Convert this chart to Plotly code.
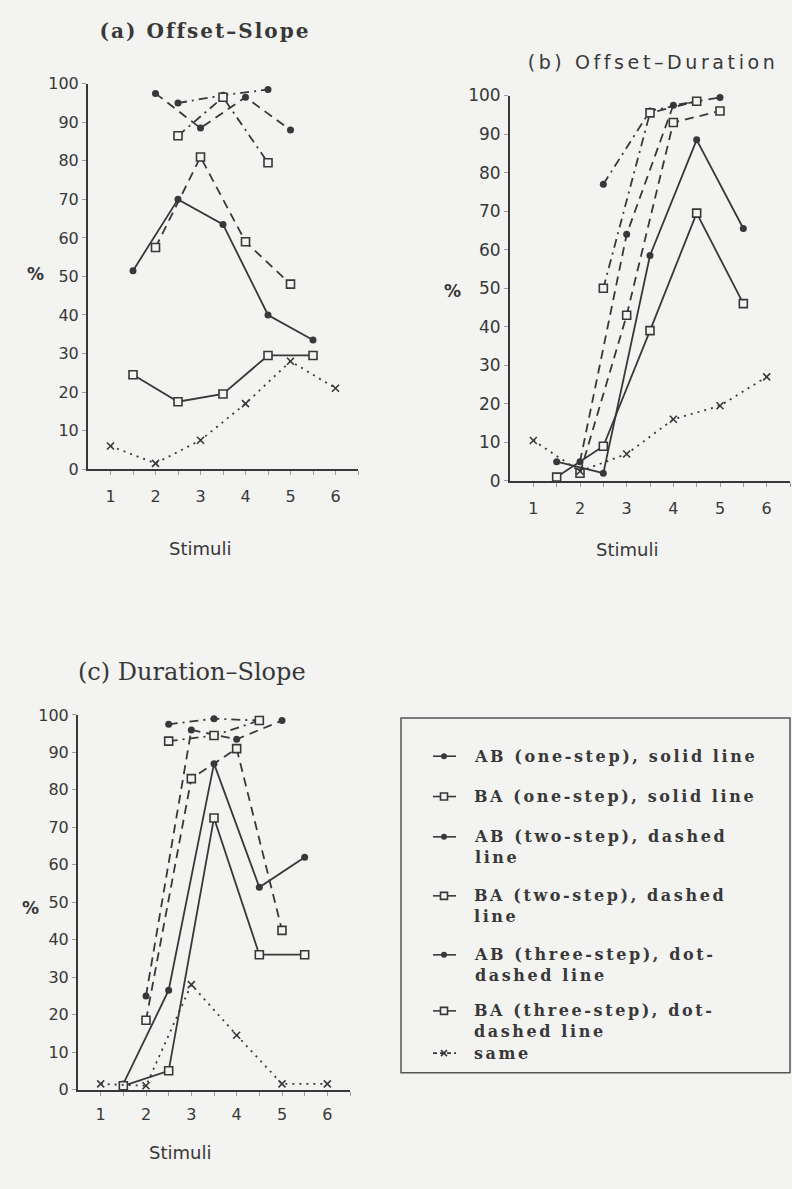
import plotly.graph_objects as go

# ---- data -------------------------------------------------------------
STIM_LABELS = ["1", "2", "3", "4", "5", "6"]
X_SAME = [1, 2, 3, 4, 5, 6]              # identical pairs
X_ONE = [1.5, 2.5, 3.5, 4.5, 5.5]        # one-step pairs (midpoints)
X_TWO = [2, 3, 4, 5]                     # two-step pairs
X_THREE = [2.5, 3.5, 4.5]                # three-step pairs

# (a) Offset-Slope
a_ab_one = [51.5, 70, 63.5, 40, 33.5]
a_ba_one = [24.5, 17.5, 19.5, 29.5, 29.5]
a_ab_two = [97.5, 88.5, 96.5, 88]
a_ba_two = [57.5, 81, 59, 48]
a_ab_three = [95, 97, 98.5]
a_ba_three = [86.5, 96.5, 79.5]
a_same = [6, 1.5, 7.5, 17, 28, 21]

# (b) Offset-Duration
b_ab_one = [5, 2, 58.5, 88.5, 65.5]
b_ba_one = [1, 9, 39, 69.5, 46]
b_ab_two = [5, 64, 97.5, 99.5]
b_ba_two = [2, 43, 93, 96]
b_ab_three = [77, 96, 98.5]
b_ba_three = [50, 95.5, 98.5]
b_same = [10.5, 2.5, 7, 16, 19.5, 27]

# (c) Duration-Slope
c_ab_one = [1.5, 26.5, 87, 54, 62]
c_ba_one = [1, 5, 72.5, 36, 36]
c_ab_two = [25, 96, 93.5, 98.5]
c_ba_two = [18.5, 83, 91, 42.5]
c_ab_three = [97.5, 99, 98.5]
c_ba_three = [93, 94.5, 98.5]
c_same = [1.5, 1, 28, 14.5, 1.5, 1.5]

SERIES_NAMES = [
    "AB (one-step), solid line",
    "BA (one-step), solid line",
    "AB (two-step), dashed line",
    "BA (two-step), dashed line",
    "AB (three-step), dot-dashed line",
    "BA (three-step), dot-dashed line",
    "same",
]
# key text as printed (with its line breaks)
LEGEND_TEXT = [
    "AB (one-step), solid line",
    "BA (one-step), solid line",
    "AB (two-step), dashed<br>line",
    "BA (two-step), dashed<br>line",
    "AB (three-step), dot-<br>dashed line",
    "BA (three-step), dot-<br>dashed line",
    "same",
]

# ---- styling ------------------------------------------------------------
W, H = 792, 1189
BG = "#f3f3f1"
INK = "#383838"
TICK = "#9c9c9c"

DASH_SOLID = "solid"
DASH_LONG = "9px,6px"
DASH_DOTDASH = "9px,5px,2px,5px"
DASH_DOT = "2px,5px"

FILLED = dict(symbol="circle", size=7, color=INK, line=dict(width=0))
OPEN = dict(symbol="square", size=8, color=BG, line=dict(width=1.6, color=INK))
CROSS = dict(symbol="x-thin", size=7, color=INK, line=dict(width=1.6, color=INK))

STYLES = [
    (X_ONE, DASH_SOLID, FILLED),
    (X_ONE, DASH_SOLID, OPEN),
    (X_TWO, DASH_LONG, FILLED),
    (X_TWO, DASH_LONG, OPEN),
    (X_THREE, DASH_DOTDASH, FILLED),
    (X_THREE, DASH_DOTDASH, OPEN),
    (X_SAME, DASH_DOT, CROSS),
]

PANELS = [
    ("x", "y", [a_ab_one, a_ba_one, a_ab_two, a_ba_two, a_ab_three, a_ba_three, a_same]),
    ("x2", "y2", [b_ab_one, b_ba_one, b_ab_two, b_ba_two, b_ab_three, b_ba_three, b_same]),
    ("x3", "y3", [c_ab_one, c_ba_one, c_ab_two, c_ba_two, c_ab_three, c_ba_three, c_same]),
]


def px_x(p):
    return p / W


def px_y(p):
    return 1 - p / H


fig = go.Figure()

for xa, ya, values in PANELS:
    for name, (xs, dash, marker), ys in zip(SERIES_NAMES, STYLES, values):
        fig.add_trace(go.Scatter(
            x=xs, y=ys, xaxis=xa, yaxis=ya,
            mode="lines+markers", name=name, showlegend=False,
            line=dict(color=INK, width=1.8, dash=dash),
            marker=marker, cliponaxis=False,
        ))

# ---- key (drawn on a page-sized helper axis in pixel units) ---------------
KEY_TOP = [759, 800, 841, 901, 961, 1018, 1061]   # first text line of each entry
LINE_STEP = 21
KEY_X0, KEY_XM, KEY_X1 = 433, 444, 456
TEXT_X = 472

for (xs, dash, marker), text, yk, name in zip(STYLES, LEGEND_TEXT, KEY_TOP, SERIES_NAMES):
    fig.add_trace(go.Scatter(
        x=[KEY_X0, KEY_X1], y=[yk, yk], xaxis="x4", yaxis="y4", mode="lines",
        line=dict(color=INK, width=1.6, dash="4px,3px" if dash == DASH_DOT else "solid"),
        showlegend=False, hoverinfo="skip", name=name,
    ))
    fig.add_trace(go.Scatter(
        x=[KEY_XM], y=[yk], xaxis="x4", yaxis="y4", mode="markers",
        marker=dict(marker, size=marker["size"] - 1), showlegend=False, hoverinfo="skip", name=name,
    ))
    n_lines = text.count("<br>") + 1
    fig.add_annotation(
        text=text, xref="paper", yref="paper",
        x=px_x(TEXT_X), y=px_y(yk + (n_lines - 1) * LINE_STEP / 2),
        xanchor="left", yanchor="middle", align="left", showarrow=False,
        font=dict(family="DejaVu Serif", size=16, color=INK, weight="bold"),
    )

x_tickvals = [1 + 0.5 * i for i in range(12)]
x_ticktext = [STIM_LABELS[int(v) - 1] if float(v).is_integer() else "" for v in x_tickvals]


def x_axis(domain, anchor, standoff, size):
    return dict(
        domain=domain, range=[0.5, 6.5], tickvals=x_tickvals, ticktext=x_ticktext,
        showline=True, linecolor=INK, linewidth=2, ticks="outside", ticklen=4,
        tickcolor=TICK, tickwidth=1, showgrid=False, zeroline=False,
        tickfont=dict(family="DejaVu Sans", size=size, color=INK),
        ticklabelstandoff=standoff, fixedrange=True, anchor=anchor,
    )


def y_axis(domain, anchor, size):
    return dict(
        domain=domain, range=[0, 100], tickvals=list(range(0, 101, 10)),
        showline=True, linecolor=INK, linewidth=2, ticks="outside", ticklen=4,
        tickcolor=TICK, tickwidth=1, showgrid=False, zeroline=False,
        tickfont=dict(family="DejaVu Sans", size=size, color=INK),
        anchor=anchor, fixedrange=True,
    )


fig.update_layout(
    width=W, height=H,
    margin=dict(l=0, r=0, t=0, b=0),
    paper_bgcolor=BG, plot_bgcolor="rgba(0,0,0,0)",
    showlegend=False,
    xaxis=x_axis([px_x(88), px_x(358)], "y", 8, 16),
    yaxis=y_axis([px_y(467), px_y(75)], "x", 16),
    xaxis2=x_axis([px_x(510), px_x(790)], "y2", 8, 16),
    yaxis2=y_axis([px_y(479), px_y(87)], "x2", 17),
    xaxis3=x_axis([px_x(78), px_x(350)], "y3", 5, 16),
    yaxis3=y_axis([px_y(1098), px_y(717)], "x3", 16),
    xaxis4=dict(domain=[0, 1], range=[0, W], visible=False, fixedrange=True, anchor="y4"),
    yaxis4=dict(domain=[0, 1], range=[H, 0], visible=False, fixedrange=True, anchor="x4"),
)

# key frame
fig.add_shape(type="rect", xref="paper", yref="paper",
              x0=px_x(401), x1=px_x(790), y0=px_y(1081), y1=px_y(720),
              line=dict(color="#555555", width=1.5), fillcolor="rgba(0,0,0,0)", layer="below")


def note(text, x, y, family, size, weight="normal"):
    fig.add_annotation(text=text, xref="paper", yref="paper", x=px_x(x), y=px_y(y),
                       xanchor="center", yanchor="middle", showarrow=False,
                       font=dict(family=family, size=size, color=INK, weight=weight))


note("(a) Offset\u2013Slope", 205, 21, "DejaVu Serif", 20, "bold")
note("(b) Offset\u2013Duration", 653, 53, "DejaVu Sans", 19)
note("(c) Duration\u2013Slope", 192, 673, "DejaVu Serif", 24)

note("%", 35, 269, "DejaVu Sans", 17, "bold")
note("%", 452, 286, "DejaVu Sans", 17, "bold")
note("%", 30, 913, "DejaVu Sans", 17, "bold")

note("Stimuli", 200, 548, "DejaVu Sans", 18)
note("Stimuli", 627, 549, "DejaVu Sans", 18)
note("Stimuli", 180, 1162, "DejaVu Sans", 18)

# typewriter-style letter spacing for the titles and the key text
SPACING_JS = """
var gd = document.getElementById('{plot_id}');
function spaceOut() {
  document.querySelectorAll('text.annotation-text').forEach(function (t) {
    var s = t.textContent;
    var ls = null;
    if (s.indexOf('(a)') === 0) ls = '2px';
    else if (s.indexOf('(b)') === 0) ls = '3.6px';
    else if (/^(AB|BA|same)/.test(s)) ls = '2.6px';
    if (ls) t.style.letterSpacing = ls;
  });
}
spaceOut();
gd.on('plotly_afterplot', spaceOut);
"""

fig.write_html("out.html", post_script=SPACING_JS)
